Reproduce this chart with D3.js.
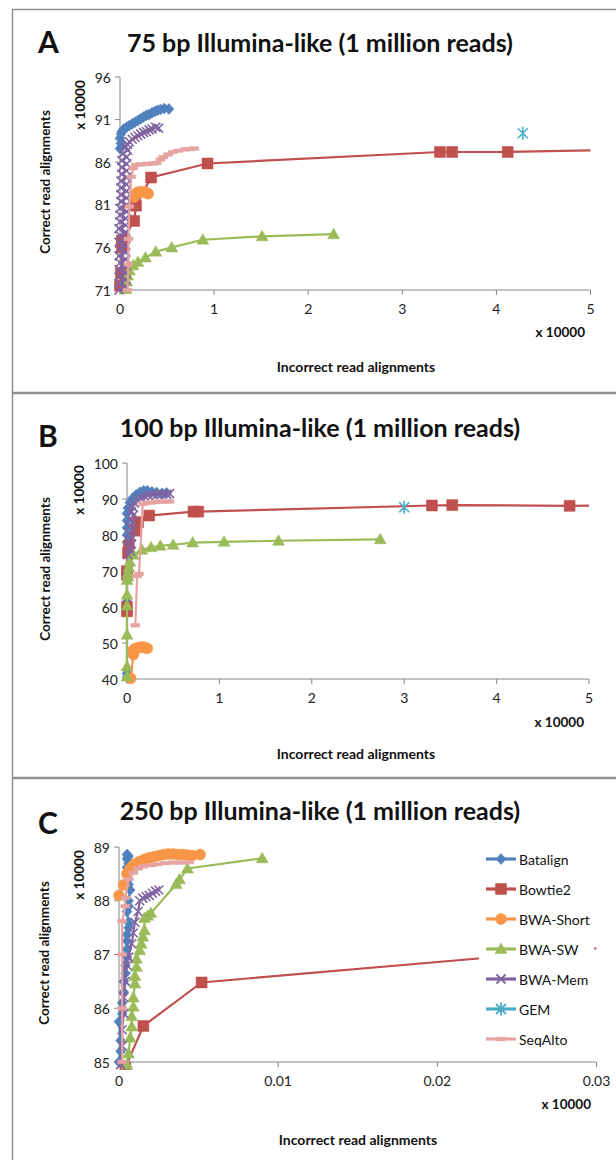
<!DOCTYPE html>
<meta charset="utf-8">
<head>
  <title>Read aligners - correct vs incorrect alignments</title>
  <script src="https://d3js.org/d3.v7.min.js"></script>
  <style>
    body { margin: 0; background: #fff; }
    text { font-family: Lato, "Open Sans", sans-serif; fill: #111; }
  </style>
</head>
<body>
<div id="display"></div>
<script>

// ---- series names (legend order = drawing order) ----
var seriesNames = ["Batalign", "Bowtie2", "BWA-Short", "BWA-SW", "BWA-Mem", "GEM", "SeqAlto"];

// ---- axis ticks ----
var xTicksAB = [0, 1, 2, 3, 4, 5];
var xTicksC = [0, 0.01, 0.02, 0.03];
var yTicksA = [71, 76, 81, 86, 91, 96];
var yTicksB = [40, 50, 60, 70, 80, 90, 100];
var yTicksC = [85, 86, 87, 88, 89];

// ---- 75 bp : [incorrect, correct]  (both x 10000) ----
var batalign75 = [[0.0,87.6],[0.01,88.2],[0.0,88.8],[0.01,89.3],[0.02,89.6],[0.04,89.9],[0.07,90.1],[0.1,90.3],[0.13,90.5],[0.16,90.7],[0.19,90.9],[0.22,91.1],[0.25,91.3],[0.28,91.5],[0.31,91.6],[0.34,91.8],[0.37,91.95],[0.4,92.1],[0.43,92.2],[0.47,92.3],[0.52,92.25]];
var bowtie75 = [[0.0,71.5],[0.01,73.0],[0.02,76.0],[0.02,76.8],[0.15,79.1],[0.17,80.9],[0.33,84.2],[0.93,85.85],[3.4,87.2],[3.53,87.2],[4.12,87.2],[6.0,87.6]];
var bwaShort75 = [[0.15,81.9],[0.16,82.2],[0.18,82.4],[0.2,82.5],[0.22,82.5],[0.25,82.5],[0.28,82.4],[0.3,82.3]];
var bwaSw75 = [[0.06,71.1],[0.07,72.0],[0.08,72.7],[0.1,73.3],[0.14,73.9],[0.19,74.3],[0.27,74.8],[0.38,75.5],[0.55,76.0],[0.88,76.9],[1.51,77.3],[2.27,77.55]];
var bwaMem75 = [[-0.01,71.0],[0.06,71.4],[-0.01,71.8],[0.06,72.2],[0.0,72.6],[0.06,73.0],[-0.01,73.4],[0.06,73.8],[0.0,74.2],[0.06,74.6],[-0.01,75.0],[0.06,75.4],[0.0,75.8],[0.06,76.2],[-0.01,76.6],[0.06,77.0],[0.0,77.4],[0.06,77.8],[-0.01,78.2],[0.06,78.6],[0.0,79.0],[0.06,79.4],[0.0,79.8],[0.07,80.2],[0.0,80.6],[0.07,81.0],[0.01,81.4],[0.07,81.8],[0.01,82.2],[0.07,82.6],[0.01,83.0],[0.07,83.4],[0.01,83.8],[0.07,84.2],[0.02,84.6],[0.07,85.0],[0.02,85.4],[0.07,85.8],[0.02,86.2],[0.07,86.6],[0.03,87.0],[0.08,87.4],[0.06,87.8],[0.08,88.1],[0.1,88.4],[0.13,88.7],[0.16,88.9],[0.19,89.1],[0.22,89.3],[0.25,89.5],[0.28,89.6],[0.31,89.8],[0.34,89.9],[0.38,90.1],[0.41,90.0]];
var gem75 = [[4.28,89.4]];
var seqAlto75 = [[0.08,71.0],[0.09,74.0],[0.09,77.0],[0.1,80.8],[0.12,84.3],[0.14,85.3],[0.17,85.7],[0.22,85.75],[0.29,85.8],[0.35,85.85],[0.39,85.9],[0.43,86.3],[0.46,86.6],[0.51,86.9],[0.56,87.2],[0.62,87.35],[0.69,87.5],[0.74,87.55],[0.79,87.6]];

// ---- 100 bp ----
var batalign100 = [[0.0,40.5],[0.0,41.5],[0.0,60.5],[0.0,61.5],[0.0,78.0],[0.0,80.0],[0.0,82.0],[0.0,84.0],[0.0,86.0],[0.01,87.5],[0.03,89.0],[0.06,90.2],[0.1,91.2],[0.14,91.9],[0.18,92.3],[0.22,92.3],[0.27,92.0],[0.32,91.8],[0.38,91.6],[0.43,91.7]];
var bowtie100 = [[0.0,58.8],[0.0,60.0],[0.0,69.0],[0.0,70.0],[0.01,75.0],[0.02,77.0],[0.1,81.2],[0.12,83.6],[0.24,85.4],[0.72,86.5],[0.77,86.5],[3.3,88.2],[3.52,88.3],[4.79,88.1],[5.6,88.3]];
var bwaShort100 = [[0.04,40.2],[0.07,46.8],[0.06,47.8],[0.08,48.3],[0.11,48.6],[0.14,48.8],[0.17,48.9],[0.2,48.7],[0.22,48.5]];
var bwaSw100 = [[0.0,40.7],[0.0,43.5],[0.0,52.3],[0.0,60.4],[0.0,63.4],[0.0,67.5],[0.01,68.5],[0.01,69.5],[0.02,71.0],[0.03,72.6],[0.07,74.5],[0.16,75.9],[0.26,76.6],[0.36,77.0],[0.5,77.3],[0.71,77.9],[1.05,78.1],[1.64,78.4],[2.74,78.8]];
var bwaMem100 = [[0.01,74.5],[0.04,75.5],[0.02,76.5],[0.05,77.5],[0.02,78.5],[0.05,79.5],[0.03,80.5],[0.06,81.5],[0.03,82.5],[0.06,83.5],[0.04,84.5],[0.07,85.5],[0.05,86.5],[0.06,87.8],[0.08,88.9],[0.11,89.7],[0.15,90.3],[0.19,90.7],[0.23,91.0],[0.28,91.2],[0.33,91.3],[0.38,91.4],[0.43,91.3],[0.46,91.5]];
var gem100 = [[3.0,87.7]];
var seqAlto100 = [[0.09,54.9],[0.11,68.6],[0.13,69.2],[0.17,88.6],[0.21,88.9],[0.26,89.0],[0.31,89.2],[0.36,89.3],[0.41,89.3],[0.46,89.3]];

// ---- 250 bp ----
var batalign250 = [[0.0,85.0],[0.0001,85.2],[0.0001,85.4],[0.0,85.75],[0.0002,85.9],[0.0002,86.1],[0.0003,86.3],[0.0003,86.5],[0.0004,86.65],[0.0004,86.8],[0.0005,86.95],[0.0005,87.1],[0.0005,87.25],[0.0005,87.37],[0.0006,87.5],[0.0006,87.6],[0.0005,87.8],[0.0006,87.9],[0.0006,88.0],[0.0007,88.2],[0.0006,88.3],[0.0006,88.4],[0.0006,88.55],[0.0005,88.62],[0.0006,88.7],[0.0005,88.78],[0.0006,88.83],[0.0005,88.86]];
var bowtie250 = [[0.0004,84.9],[0.00153,85.67],[0.00519,86.48],[0.045,87.5]];
var bwaShort250 = [[0.0,88.1],[0.0003,88.3],[0.0005,88.5],[0.0007,88.6],[0.0009,88.66],[0.0011,88.7],[0.0013,88.73],[0.0016,88.77],[0.0019,88.8],[0.0022,88.82],[0.0025,88.84],[0.0028,88.86],[0.0031,88.87],[0.0034,88.87],[0.0037,88.86],[0.004,88.86],[0.0043,88.85],[0.0046,88.84],[0.0051,88.86]];
var bwaSw250 = [[0.0005,84.95],[0.0006,85.16],[0.0007,85.45],[0.0008,85.66],[0.0008,85.85],[0.0009,86.03],[0.0009,86.2],[0.001,86.46],[0.001,86.6],[0.0011,86.77],[0.0011,86.92],[0.0013,87.08],[0.0014,87.2],[0.0015,87.33],[0.0016,87.45],[0.0016,87.68],[0.0018,87.72],[0.002,87.77],[0.0036,88.31],[0.0038,88.4],[0.0043,88.6],[0.009,88.79]];
var bwaMem250 = [[0.0001,84.95],[0.0002,85.3],[0.0002,85.6],[0.0003,85.9],[0.0003,86.2],[0.0004,86.5],[0.0005,86.8],[0.0006,86.95],[0.0008,87.2],[0.0009,87.4],[0.001,87.6],[0.0012,87.8],[0.0013,88.0],[0.0015,88.05],[0.0017,88.08],[0.0019,88.1],[0.0021,88.14],[0.0023,88.18],[0.0025,88.2]];
var gem250 = [];
var seqAlto250 = [[0.0002,85.0],[0.0002,86.0],[0.0002,87.0],[0.0002,87.62],[0.0004,87.9],[0.0004,88.05],[0.0006,88.4],[0.0009,88.52],[0.0012,88.6],[0.0015,88.64],[0.002,88.66],[0.0024,88.68],[0.0029,88.7],[0.0034,88.71],[0.0039,88.71],[0.0044,88.72]];

// ---- styling per series ----
var colors = ["#4F81BD", "#C0504D", "#F79646", "#9BBB59", "#8064A2", "#4BACC6", "#E6A3A2"];
var markers = ["diamond", "square", "circle", "triangle", "x", "asterisk", "dash"];

function markerPath(type) {
  switch (type) {
    case "diamond": return "M0,-5.5L5,0L0,5.5L-5,0Z";
    case "square": return "M-5.5,-5.5H5.5V5.5H-5.5Z";
    case "circle": return "M5.5,0A5.5,5.5 0 1,1 -5.5,0A5.5,5.5 0 1,1 5.5,0Z";
    case "triangle": return "M0,-6L6,4.5L-6,4.5Z";
    case "x": return "M-4.5,-4.5L4.5,4.5M-4.5,4.5L4.5,-4.5";
    case "asterisk": return "M-5,-5L5,5M-5,5L5,-5M0,-6.5V6.5";
    case "dash": return "M-4.5,-1.8H4.5V1.8H-4.5Z";
  }
}
function isStroke(type) { return type === "x" || type === "asterisk"; }

var panels = [
  { letter: "A", title: "75 bp Illumina-like (1 million reads)",
    frame: [9, 392], xr: [120, 590.5], yr: [290, 77],
    xd: [0, 5], yd: [71, 96], xTicks: xTicksAB, yTicks: yTicksA,
    letterY: 41, titleY: 42, yUnit: [80, 105], yLab: [45, 182], xUnit: [585, 332], xLab: [356, 366],
    series: [batalign75, bowtie75, bwaShort75, bwaSw75, bwaMem75, gem75, seqAlto75] },
  { letter: "B", title: "100 bp Illumina-like (1 million reads)",
    frame: [393, 777], xr: [127, 589], yr: [679, 463],
    xd: [0, 5], yd: [40, 100], xTicks: xTicksAB, yTicks: yTicksB,
    letterY: 435, titleY: 427, yUnit: [79, 490], yLab: [45, 569], xUnit: [584, 722], xLab: [356, 753],
    series: [batalign100, bowtie100, bwaShort100, bwaSw100, bwaMem100, gem100, seqAlto100] },
  { letter: "C", title: "250 bp Illumina-like (1 million reads)",
    frame: [778, 1175], xr: [119, 596.5], yr: [1062, 847],
    xd: [0, 0.03], yd: [85, 89], xTicks: xTicksC, yTicks: yTicksC,
    letterY: 822, titleY: 810, yUnit: [79, 875], yLab: [44, 953], xUnit: [591, 1104], xLab: [358, 1139],
    series: [batalign250, bowtie250, bwaShort250, bwaSw250, bwaMem250, gem250, seqAlto250],
    legend: true }
];

var svg = d3.select("#display").append("svg")
    .attr("width", 616)
    .attr("height", 1160);

svg.append("rect").attr("width", 616).attr("height", 1160).attr("fill", "#fff");

var axisColor = "#868686";

panels.forEach(function(p, pi) {
  var g = svg.append("g");

  // panel frame
  g.append("rect")
    .attr("x", 12.5).attr("y", p.frame[0] + 0.5)
    .attr("width", 620).attr("height", p.frame[1] - p.frame[0])
    .attr("fill", "none").attr("stroke", "#8f8f8f").attr("stroke-width", 1.5);

  var x = d3.scaleLinear().domain(p.xd).range(p.xr);
  var y = d3.scaleLinear().domain(p.yd).range(p.yr);

  // axes
  g.append("line").attr("x1", p.xr[0]).attr("x2", p.xr[0]).attr("y1", p.yr[0]).attr("y2", p.yr[1])
    .attr("stroke", axisColor);
  g.append("line").attr("x1", p.xr[0]).attr("x2", p.xr[1]).attr("y1", p.yr[0]).attr("y2", p.yr[0])
    .attr("stroke", axisColor);

  g.selectAll(".ytick").data(p.yTicks).enter().append("line")
    .attr("x1", p.xr[0] - 5).attr("x2", p.xr[0])
    .attr("y1", function(d) { return y(d); }).attr("y2", function(d) { return y(d); })
    .attr("stroke", axisColor);
  g.selectAll(".ylab").data(p.yTicks).enter().append("text")
    .attr("x", p.xr[0] - 9)
    .attr("y", function(d) { return y(d); })
    .attr("text-anchor", "end").attr("dominant-baseline", "central")
    .style("font-size", "14px").style("fill", "#222")
    .text(function(d) { return d; });

  g.selectAll(".xtick").data(p.xTicks).enter().append("line")
    .attr("y1", p.yr[0]).attr("y2", p.yr[0] + 5)
    .attr("x1", function(d) { return x(d); }).attr("x2", function(d) { return x(d); })
    .attr("stroke", axisColor);
  g.selectAll(".xlab").data(p.xTicks).enter().append("text")
    .attr("y", p.yr[0] + 18)
    .attr("x", function(d) { return x(d); })
    .attr("text-anchor", "middle").attr("dominant-baseline", "central")
    .style("font-size", "14px").style("fill", "#222")
    .text(function(d) { return d; });

  // titles
  g.append("text").attr("x", 38).attr("y", p.letterY).attr("dominant-baseline", "central")
    .style("font-size", "30px").style("font-weight", "bold").text(p.letter);
  g.append("text").attr("x", 320).attr("y", p.titleY).attr("dominant-baseline", "central")
    .attr("text-anchor", "middle")
    .style("font-size", "25px").style("font-weight", "bold").text(p.title);

  g.append("text")
    .attr("transform", "translate(" + p.yUnit[0] + "," + p.yUnit[1] + ") rotate(-90)")
    .attr("text-anchor", "middle").attr("dominant-baseline", "central")
    .style("font-size", "13.5px").style("font-weight", "bold").text("x 10000");
  g.append("text")
    .attr("transform", "translate(" + p.yLab[0] + "," + p.yLab[1] + ") rotate(-90)")
    .attr("text-anchor", "middle").attr("dominant-baseline", "central")
    .style("font-size", "13.5px").style("font-weight", "bold").text("Correct read alignments");
  g.append("text").attr("x", p.xUnit[0]).attr("y", p.xUnit[1])
    .attr("text-anchor", "end").attr("dominant-baseline", "central")
    .style("font-size", "13.5px").style("font-weight", "bold").text("x 10000");
  g.append("text").attr("x", p.xLab[0]).attr("y", p.xLab[1])
    .attr("text-anchor", "middle").attr("dominant-baseline", "central")
    .style("font-size", "14px").style("font-weight", "bold").text("Incorrect read alignments");

  // clip: the right edge of the plot cuts lines that run off the chart
  var clipId = "clip" + pi;
  svg.append("clipPath").attr("id", clipId).append("rect")
    .attr("x", p.xr[0] - 12).attr("y", p.yr[1] - 12)
    .attr("width", p.xr[1] - p.xr[0] + 12)
    .attr("height", p.yr[0] - p.yr[1] + 20);

  var plot = g.append("g").attr("clip-path", "url(#" + clipId + ")");
  var line = d3.line().x(function(d) { return x(d[0]); }).y(function(d) { return y(d[1]); });

  p.series.forEach(function(data, si) {
    var s = plot.append("g");
    var col = colors[si];
    if (data.length > 1) {
      s.append("path").datum(data)
        .attr("d", line)
        .attr("fill", "none").attr("stroke", col).attr("stroke-width", 2.2);
    }
    s.selectAll("path.mk").data(data).enter().append("path")
      .attr("class", "mk")
      .attr("transform", function(d) { return "translate(" + x(d[0]) + "," + y(d[1]) + ")"; })
      .attr("d", markerPath(markers[si]))
      .attr("fill", isStroke(markers[si]) ? "none" : col)
      .attr("stroke", col)
      .attr("stroke-width", isStroke(markers[si]) ? 1.6 : 0.5);
  });

  if (p.legend) {
    var lg = g.append("g");
    lg.append("rect").attr("x", 479).attr("y", 845).attr("width", 115).attr("height", 208).attr("fill", "#fff");
    var ly = d3.scalePoint().domain(seriesNames).range([859, 1039]);
    seriesNames.forEach(function(name, si) {
      var yy = ly(name);
      lg.append("line").attr("x1", 486).attr("x2", 516).attr("y1", yy).attr("y2", yy)
        .attr("stroke", colors[si]).attr("stroke-width", 3.2);
      lg.append("path").attr("transform", "translate(501," + yy + ")")
        .attr("d", markerPath(markers[si]))
        .attr("fill", isStroke(markers[si]) ? "none" : colors[si])
        .attr("stroke", colors[si]).attr("stroke-width", isStroke(markers[si]) ? 1.8 : 0.5);
      lg.append("text").attr("x", 519).attr("y", yy).attr("dominant-baseline", "central")
        .style("font-size", "14px").text(name);
    });
  }
});

</script>
</body>
